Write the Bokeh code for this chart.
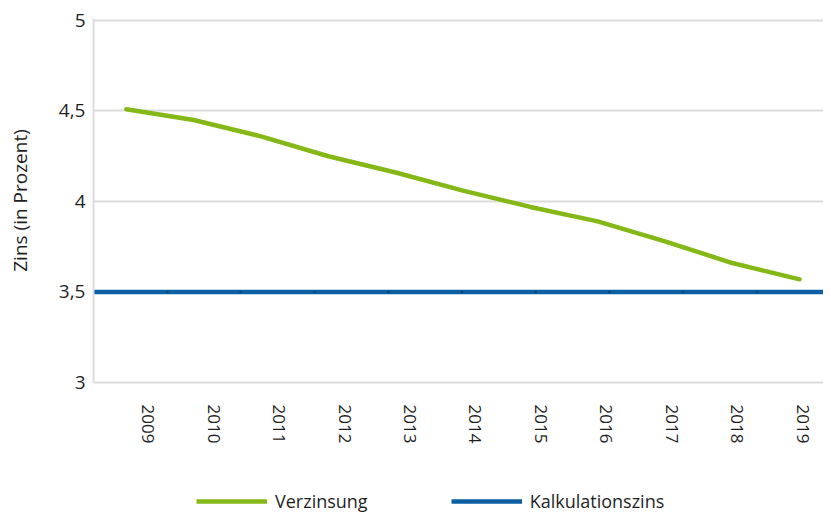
from bokeh.plotting import figure
from bokeh.layouts import column
from bokeh.models import Range1d, FixedTicker, CustomJSTickFormatter, Legend, LegendItem
from bokeh.embed import file_html
from bokeh.resources import INLINE

years = ["2009", "2010", "2011", "2012", "2013", "2014", "2015", "2016", "2017", "2018", "2019"]
verzinsung = [4.51, 4.45, 4.36, 4.25, 4.16, 4.06, 3.97, 3.89, 3.78, 3.66, 3.57]
kalkulationszins = [3.5, 3.5, 3.5, 3.5, 3.5, 3.5, 3.5, 3.5, 3.5, 3.5, 3.5]
y_ticks = [3, 3.5, 4, 4.5, 5]

FONT = "Open Sans"
TXT = "#1f1f1f"
GRID = "#dcdcdc"
GREEN = "#84b816"
BLUE = "#0d5fa3"

idx = list(range(len(years)))

p = figure(width=823, height=460, output_backend="svg", toolbar_location=None,
           x_range=Range1d(-0.837, 10.32), y_range=Range1d(3, 5.011),
           min_border_left=93, min_border_right=0, min_border_top=18, min_border_bottom=78)
p.extra_x_ranges = {"line": Range1d(-0.488, 10.355), "kalk": Range1d(0, 9.905)}
p.outline_line_color = None
p.background_fill_color = "white"
p.border_fill_color = "white"

p.xgrid.visible = False
p.ygrid.ticker = FixedTicker(ticks=y_ticks)
p.ygrid.grid_line_color = GRID
p.ygrid.grid_line_width = 2

# y axis
ya = p.yaxis[0]
ya.ticker = FixedTicker(ticks=y_ticks)
ya.formatter = CustomJSTickFormatter(code="return tick.toString().replace('.', ',')")
ya.axis_line_color = GRID
ya.axis_line_width = 2
ya.major_tick_line_color = None
ya.minor_tick_line_color = None
ya.major_label_standoff = 2
ya.major_label_text_font = FONT
ya.major_label_text_font_size = "19px"
ya.major_label_text_color = TXT
ya.axis_label = "Zins (in Prozent)"
ya.axis_label_text_font = FONT
ya.axis_label_text_font_size = "19px"
ya.axis_label_text_font_style = "normal"
ya.axis_label_text_color = TXT
ya.axis_label_standoff = 23

# x axis
xa = p.xaxis[0]
xa.ticker = FixedTicker(ticks=idx)
xa.major_label_overrides = {i: y for i, y in zip(idx, years)}
xa.major_label_orientation = "vertical"
xa.axis_line_color = GRID
xa.axis_line_width = 2
xa.major_tick_line_color = None
xa.minor_tick_line_color = None
xa.major_label_standoff = 16
xa.major_label_text_font = FONT
xa.major_label_text_font_size = "17px"
xa.major_label_text_color = TXT

p.line(idx, verzinsung, x_range_name="line", line_color=GREEN, line_width=4.5,
       line_join="round", line_cap="round")
p.line(idx, kalkulationszins, x_range_name="kalk", line_color=BLUE, line_width=4.5)
p.scatter(idx, kalkulationszins, x_range_name="kalk", size=3, fill_color="#0a4a82",
          line_color=None)

# legend strip below the chart (series drawn outside its visible range)
leg = figure(width=823, height=53, output_backend="svg", toolbar_location=None,
             x_range=Range1d(100, 101), y_range=Range1d(100, 101),
             min_border_left=0, min_border_right=0, min_border_top=0, min_border_bottom=0)
leg.axis.visible = False
leg.grid.visible = False
leg.outline_line_color = None
lg = leg.line(idx, verzinsung, line_color=GREEN, line_width=4.5)
lb = leg.line(idx, kalkulationszins, line_color=BLUE, line_width=4.5)
legend = Legend(items=[LegendItem(label="Verzinsung", renderers=[lg]),
                       LegendItem(label="Kalkulationszins", renderers=[lb])],
                location=(103, 0), orientation="horizontal",
                padding=0, margin=0, spacing=83, glyph_width=71, glyph_height=20,
                label_height=20, label_standoff=8,
                label_text_font=FONT, label_text_font_size="18px", label_text_color=TXT,
                border_line_color=None, background_fill_alpha=0)
leg.add_layout(legend, "center")

layout = column(p, leg, spacing=0)
open("out.html", "w").write(file_html(layout, INLINE))
